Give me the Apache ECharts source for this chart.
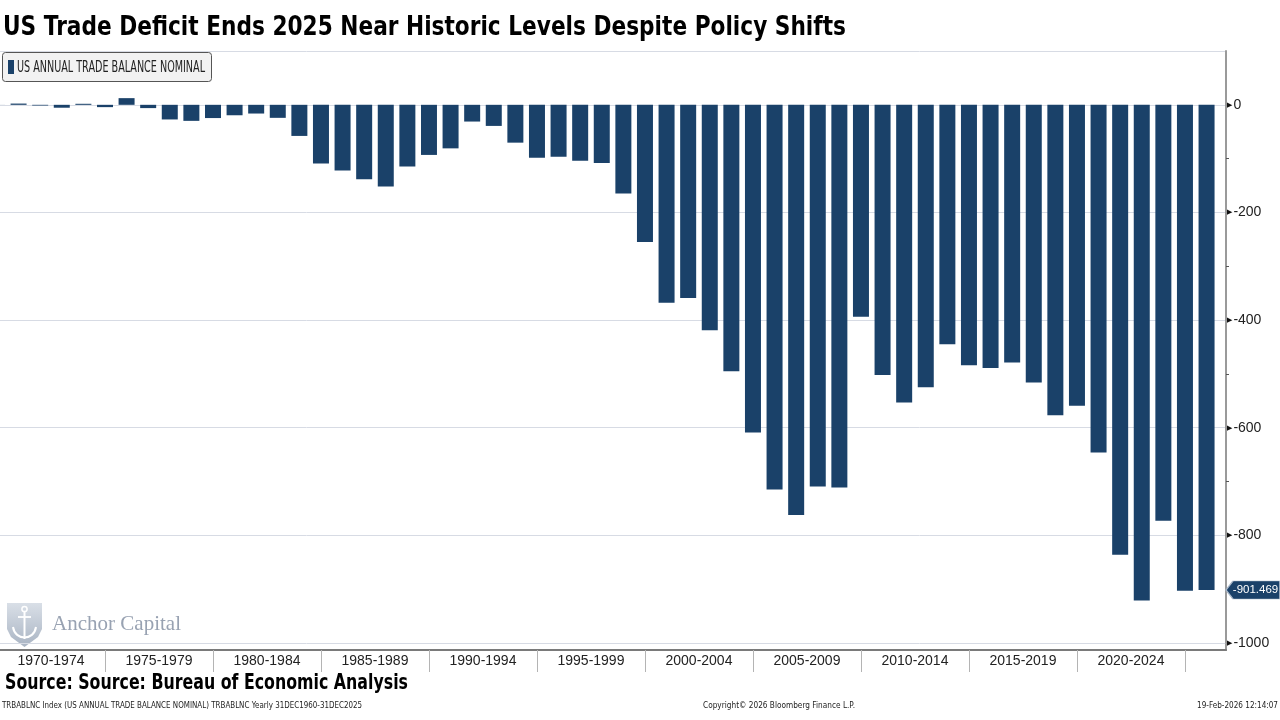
<!DOCTYPE html>
<html>
<head>
<meta charset="utf-8">
<script src="https://cdn.jsdelivr.net/npm/echarts@6/dist/echarts.min.js"></script>
<style>
html,body{margin:0;padding:0;background:#fff;}
#chart{width:1280px;height:720px;}
</style>
</head>
<body>
<div id="chart"></div>
<script>
// ---- Data ----
const years = [1969,1970,1971,1972,1973,1974,1975,1976,1977,1978,1979,
  1980,1981,1982,1983,1984,1985,1986,1987,1988,1989,
  1990,1991,1992,1993,1994,1995,1996,1997,1998,1999,
  2000,2001,2002,2003,2004,2005,2006,2007,2008,2009,
  2010,2011,2012,2013,2014,2015,2016,2017,2018,2019,
  2020,2021,2022,2023,2024,2025];
const tradeBalance = [0.1,2.3,-1.3,-5.4,1.9,-4.3,12.4,-6.1,-27.2,-29.8,-24.6,
  -19.4,-16.2,-24.2,-57.8,-109.1,-121.9,-138.5,-151.7,-114.6,-93.1,
  -80.9,-31.1,-39.2,-70.3,-98.5,-96.4,-104.1,-108.3,-164.9,-255,
  -368,-359,-419,-495,-609,-715,-762,-709,-711,-394,
  -502,-553,-525,-445,-484,-489,-479,-516,-577,-559,
  -646,-836,-921,-773,-903,-901.469];
const periodLabels = ['1970-1974','1975-1979','1980-1984','1985-1989','1990-1994',
  '1995-1999','2000-2004','2005-2009','2010-2014','2015-2019','2020-2024'];
const yTickValues = [0,-200,-400,-600,-800,-1000];
const seriesName = 'US ANNUAL TRADE BALANCE NOMINAL';
const titleText = 'US Trade Deficit Ends 2025 Near Historic Levels Despite Policy Shifts';
const sourceText = 'Source: Source: Bureau of Economic Analysis';
const footLeft = 'TRBABLNC Index (US ANNUAL TRADE BALANCE NOMINAL) TRBABLNC Yearly 31DEC1960-31DEC2025';
const footMid = 'Copyright\u00A9 2026 Bloomberg Finance L.P.';
const footRight = '19-Feb-2026 12:14:07';

// ---- helpers ----
const ctx = document.createElement('canvas').getContext('2d');
function measure(font, text){ ctx.font = font; return ctx.measureText(text).width; }
const axisFamily = 'Liberation Sans';

function fitText(text, x, y, fontSize, weight, family, target, fill, align){
  const font = (weight ? weight + ' ' : '') + fontSize + "px '" + family + "'";
  const w = measure(font, text);
  return {
    type: 'text', x: x, y: y, scaleX: target / w, silent: true,
    style: { text: text, x: 0, y: 0, fill: fill, fontSize: fontSize, fontWeight: weight || 'normal',
      fontFamily: family, textAlign: align || 'left', textVerticalAlign: 'middle' }
  };
}

const navy = '#1a4169';
const xMin = 1969.14, xMax = 2025.9;
const dividerValues = periodLabels.map(l => parseInt(l.slice(5), 10));
const labelCenters = periodLabels.map(l => parseInt(l.slice(0, 4), 10) + 1.5);
const lastValue = tradeBalance[tradeBalance.length - 1];

const chart = echarts.init(document.getElementById('chart'), null, {renderer: 'canvas'});
chart.setOption({
  backgroundColor: '#ffffff',
  animation: false,
  grid: { left: 0, right: 54, top: 51, bottom: 77, containLabel: false },
  xAxis: {
    type: 'value', min: xMin, max: xMax, offset: 7,
    axisLine: { show: true, onZero: false, lineStyle: { color: '#7a7a7a', width: 2 } },
    axisTick: { show: true, customValues: dividerValues, length: 22, lineStyle: { color: '#b4b4b4', width: 1 } },
    axisLabel: {
      show: true, customValues: labelCenters, margin: 4,
      formatter: v => { const i = labelCenters.findIndex(c => Math.abs(c - v) < 0.01); return i >= 0 ? periodLabels[i] : ''; },
      color: '#222', fontSize: 14, fontFamily: axisFamily
    },
    splitLine: { show: false }
  },
  yAxis: {
    type: 'value', position: 'right', min: -1000, max: 100, interval: 200,
    axisLine: { show: true, lineStyle: { color: '#9a9a9a', width: 2 } },
    axisTick: { show: false },
    minorTick: { show: true, splitNumber: 2, length: 3, lineStyle: { color: '#555' } },
    axisLabel: {
      show: true, customValues: yTickValues, margin: 1,
      formatter: v => '{a|\u25B6}{b|' + v + '}',
      rich: {
        a: { fontSize: 7, color: '#111', fontFamily: 'DejaVu Sans', padding: [0, 1, 0, 0] },
        b: { fontSize: 14, color: '#222', fontFamily: axisFamily }
      }
    },
    splitLine: { show: true, lineStyle: { color: '#d7dbe4', width: 1 } }
  },
  series: [{
    name: seriesName, type: 'bar', barWidth: 16, clip: true,
    data: years.map((y, i) => [y, tradeBalance[i]]),
    itemStyle: { color: navy },
    markPoint: {
      silent: true,
      symbol: 'path://M0,9 L7,0 L54,0 L54,18 L7,18 Z',
      symbolSize: [54, 18], symbolOffset: [27, 0], symbolKeepAspect: false,
      itemStyle: { color: navy, borderColor: '#a9b7c8', borderWidth: 1 },
      label: { show: true, color: '#fff', fontSize: 11.5, fontFamily: axisFamily, offset: [2.5, 0],
        formatter: () => String(lastValue) },
      data: [{ coord: [xMax, lastValue], value: lastValue }]
    }
  }],
  graphic: [
    fitText(titleText, 3, 28, 27, 'bold', 'DejaVu Sans', 843, '#000'),
    { type: 'rect', silent: true, shape: { x: 2.5, y: 52.5, width: 209, height: 29, r: 3 },
      style: { fill: '#f2f2f2', stroke: '#555', lineWidth: 1 } },
    { type: 'rect', silent: true, shape: { x: 8, y: 60, width: 6, height: 14 }, style: { fill: navy } },
    fitText(seriesName, 17, 67.5, 16, '', 'DejaVu Sans', 188, '#222'),
    { type: 'line', silent: true, shape: { x1: 1226, y1: 643, x2: 1226, y2: 651 }, style: { stroke: '#9a9a9a', lineWidth: 2 } },
    { type: 'polygon', silent: true,
      shape: { points: [[7,603],[42,603],[42,629],[38,637],[24.5,647],[11,637],[7,629]] },
      style: { fill: { type: 'linear', x: 0, y: 0, x2: 0, y2: 1,
        colorStops: [{offset: 0, color: '#d9dfe7'}, {offset: 1, color: '#a9b4c3'}] } } },
    { type: 'circle', silent: true, shape: { cx: 24.5, cy: 609, r: 2.6 }, style: { fill: 'none', stroke: '#fff', lineWidth: 1.5 } },
    { type: 'line', silent: true, shape: { x1: 24.5, y1: 611.5, x2: 24.5, y2: 639 }, style: { stroke: '#fff', lineWidth: 2 } },
    { type: 'line', silent: true, shape: { x1: 18, y1: 617, x2: 31, y2: 617 }, style: { stroke: '#fff', lineWidth: 1.8 } },
    { type: 'bezierCurve', silent: true,
      shape: { x1: 13, y1: 627, x2: 36, y2: 627, cpx1: 15, cpy1: 641, cpx2: 34, cpy2: 641 },
      style: { fill: 'none', stroke: '#fff', lineWidth: 2 } },
    fitText('Anchor Capital', 52, 624, 22, '', 'Liberation Serif', 129, '#98a2b2'),
    fitText(sourceText, 5, 684, 21, 'bold', 'DejaVu Sans', 403, '#000'),
    fitText(footLeft, 2, 706, 9, '', 'DejaVu Sans', 360, '#222'),
    fitText(footMid, 703, 706, 9, '', 'DejaVu Sans', 152, '#222'),
    fitText(footRight, 1278, 706, 9, '', 'DejaVu Sans', 81, '#222', 'right')
  ]
});
</script>
</body>
</html>
